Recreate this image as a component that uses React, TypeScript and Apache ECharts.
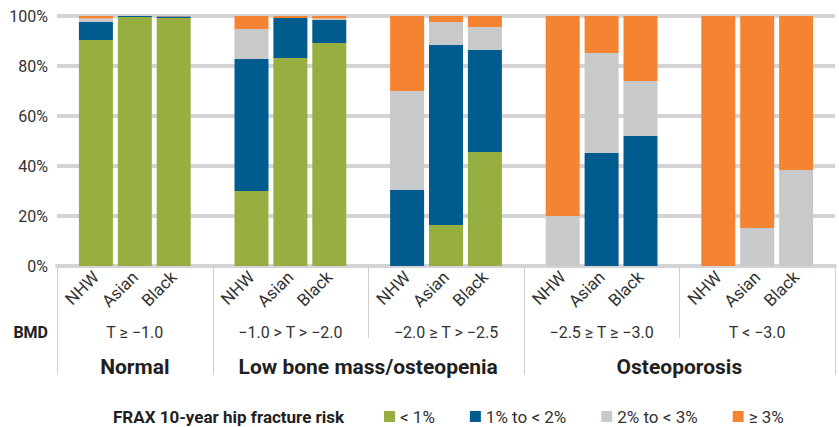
import React, { useEffect, useRef } from "react";
import * as echarts from "echarts";

// ---- data ----
const races = ["NHW", "Asian", "Black"];
const bmdLabels = ["T ≥ −1.0", "−1.0 > T > −2.0", "−2.0 ≥ T > −2.5", "−2.5 ≥ T ≥ −3.0", "T < −3.0"];
const diagnosisLabels = ["Normal", "Low bone mass/osteopenia", "Osteoporosis"];
const diagnosisSpans = [[0, 1], [1, 3], [3, 5]];
const seriesNames = ["< 1%", "1% to < 2%", "2% to < 3%", "≥ 3%"];
const seriesColors = ["#97ae40", "#005b8f", "#c8c9cb", "#f58432"];
const riskBelow1 = [90.4, 99.6, 99.2, 30, 83.2, 89.2, 0, 16.4, 45.6, 0, 0, 0, 0, 0, 0];
const risk1to2 = [7.2, 0.4, 0.6, 52.8, 16, 9.2, 30.4, 72, 40.8, 0, 45.2, 52, 0, 0, 0];
const risk2to3 = [1.4, 0, 0.1, 12, 0, 0.6, 39.6, 9.2, 9.2, 20, 40, 22, 0, 15.2, 38.4];
const risk3plus = [1.0, 0, 0.1, 5.2, 0.8, 1.0, 30, 2.4, 4.4, 80, 14.8, 26, 100, 84.8, 61.6];
const yTicks = [0, 20, 40, 60, 80, 100];

const FONT = "Roboto, 'Liberation Sans', sans-serif";
const SLOTS_PER_GROUP = 4;
const NUM_POS = bmdLabels.length * SLOTS_PER_GROUP + 1; // positions 0..20
const posLabels: string[] = new Array(NUM_POS).fill("");
const barPos: number[] = [];
bmdLabels.forEach((_, g) => {
  races.forEach((r, m) => {
    const p = g * SLOTS_PER_GROUP + 1 + m;
    barPos.push(p);
    posLabels[p] = r;
  });
});
const categoryKeys = posLabels.map((_, i) => String(i));

function spread(vals: number[]): (number | null)[] {
  const out: (number | null)[] = new Array(NUM_POS).fill(null);
  vals.forEach((v, k) => {
    out[barPos[k]] = v;
  });
  return out;
}

export default function App() {
  const ref = useRef<HTMLDivElement>(null);
  useEffect(() => {
    if (!ref.current) return;
    const chart = echarts.init(ref.current, undefined, { renderer: "svg" });
    const allSeries = [riskBelow1, risk1to2, risk2to3, risk3plus];
    chart.setOption({
      animation: false,
      grid: { left: 57, right: 4, top: 16, bottom: 161, containLabel: false },
      xAxis: {
        type: "category",
        data: categoryKeys,
        boundaryGap: false,
        splitLine: { show: false },
        axisTick: { show: false },
        axisLine: { show: true, lineStyle: { color: "#d4d4d6", width: 4 } },
        axisLabel: {
          interval: 0,
          formatter: (_v: string, idx: number) => posLabels[idx] ?? "",
          rotate: 45,
          margin: 8,
          fontFamily: FONT,
          fontSize: 17,
          color: "#333333",
        },
      },
      yAxis: {
        type: "value",
        min: yTicks[0],
        max: yTicks[yTicks.length - 1],
        interval: 20,
        axisLine: { show: false },
        axisTick: { show: false },
        splitLine: { show: true, lineStyle: { color: "#d4d4d6", width: 4 } },
        axisLabel: {
          formatter: "{value}%",
          margin: 9,
          fontFamily: FONT,
          fontSize: 16,
          color: "#333333",
        },
      },
      legend: {
        left: 384,
        top: 408,
        padding: 0,
        itemWidth: 11,
        itemHeight: 11,
        itemGap: 35,
        icon: "rect",
        data: seriesNames,
        textStyle: { fontFamily: FONT, fontSize: 17, color: "#333333" },
      },
      series: allSeries.map((vals, i) => ({
        name: seriesNames[i],
        type: "bar",
        stack: "total",
        barWidth: 34,
        itemStyle: { color: seriesColors[i] },
        data: spread(vals),
      })),
    });

    const px = (p: number) => chart.convertToPixel({ xAxisIndex: 0, yAxisIndex: 0 }, [p, 0]) as number[];
    const axisY = px(0)[1];
    const graphics: any[] = [];
    const longBounds = new Set<number>();
    diagnosisSpans.forEach(([a, b]) => {
      longBounds.add(a);
      longBounds.add(b);
    });
    for (let b = 0; b <= bmdLabels.length; b++) {
      const x = Math.round(px(b * SLOTS_PER_GROUP)[0]) + 0.5;
      const long = longBounds.has(b);
      graphics.push({
        type: "line",
        shape: { x1: x, y1: axisY + 2, x2: x, y2: long ? 375 : 338 },
        style: { stroke: "#cfcfcf", lineWidth: 1 },
        z: 1,
      });
    }
    graphics.push({
      type: "text",
      x: 48,
      y: 332,
      style: { text: "BMD", align: "right", verticalAlign: "middle", font: `bold 16px ${FONT}`, fill: "#231f20" },
    });
    bmdLabels.forEach((lab, g) => {
      const cx = (px(g * SLOTS_PER_GROUP)[0] + px((g + 1) * SLOTS_PER_GROUP)[0]) / 2;
      graphics.push({
        type: "text",
        x: cx,
        y: 332,
        style: { text: lab, align: "center", verticalAlign: "middle", font: `16px ${FONT}`, fill: "#333333" },
      });
    });
    diagnosisLabels.forEach((lab, i) => {
      const [a, b] = diagnosisSpans[i];
      const cx = (px(a * SLOTS_PER_GROUP)[0] + px(b * SLOTS_PER_GROUP)[0]) / 2;
      graphics.push({
        type: "text",
        x: cx,
        y: 367,
        style: { text: lab, align: "center", verticalAlign: "middle", font: `bold 21px ${FONT}`, fill: "#231f20" },
      });
    });
    graphics.push({
      type: "text",
      x: 113,
      y: 417,
      style: {
        text: "FRAX 10-year hip fracture risk",
        align: "left",
        verticalAlign: "middle",
        font: `bold 17px ${FONT}`,
        fill: "#231f20",
      },
    });
    chart.setOption({ graphic: graphics });
    return () => chart.dispose();
  }, []);
  return (
    <div
      ref={ref}
      style={{ position: "fixed", left: 0, top: 0, width: 839, height: 427, background: "#ffffff" }}
    />
  );
}
